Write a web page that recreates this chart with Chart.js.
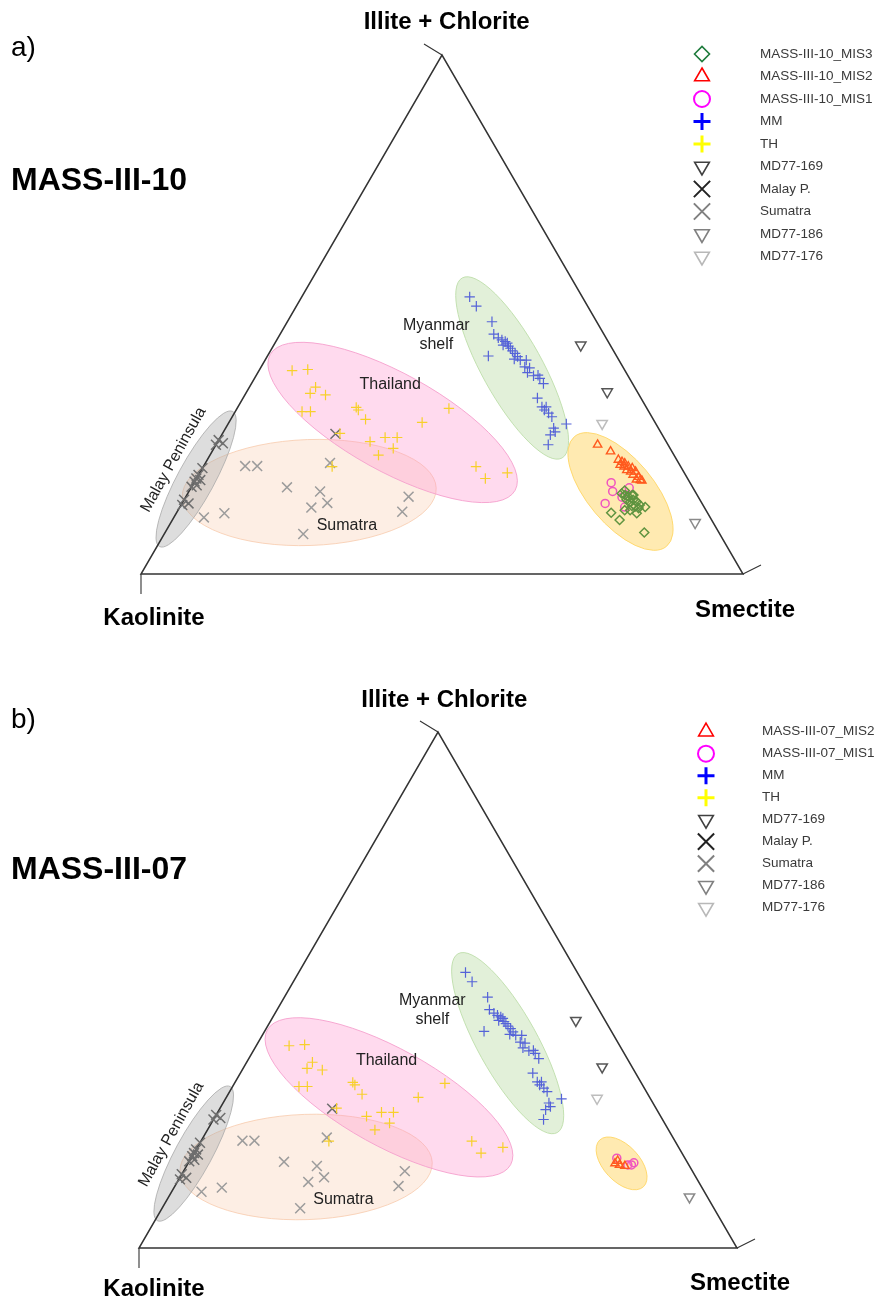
<!DOCTYPE html>
<html>
<head>
<meta charset="utf-8">
<script src="https://cdn.jsdelivr.net/npm/chart.js@4.4.1/dist/chart.umd.min.js"></script>
<style>
  body { margin: 0; background: #fff; }
  .panel { position: absolute; left: 0; }
</style>
</head>
<body>
<div class="panel" style="top:0"><canvas id="ternarioA" width="880" height="652"></canvas></div>
<div class="panel" style="top:652px"><canvas id="ternarioB" width="880" height="651"></canvas></div>
<script>
/* Diagramas ternarios de arcillas: [Kaolinita, Illita+Clorita, Esmectita] en % */

const vertices = ['Kaolinite', 'Illite + Chlorite', 'Smectite'];

// --- Fuentes de referencia (iguales en ambos paneles) ---
const datosMM = [
  [18.7,53.4,27.9], [18.5,51.6,29.9], [17.4,48.6,34.0], [18.3,46.2,35.5], [17.5,45.1,37.4],
  [17.1,44.8,38.1], [16.9,44.5,38.6], [17.0,43.9,39.1], [16.9,43.5,39.6], [21.3,42.0,36.7],
  [16.6,42.5,40.9], [16.5,41.9,41.6], [17.3,41.4,41.3], [16.4,41.2,42.4], [15.4,41.2,43.4],
  [16.3,39.9,43.8], [16.4,38.8,44.8], [14.9,38.3,46.8], [14.9,37.7,47.4], [14.8,36.7,48.5],
  [17.2,33.9,48.9], [17.3,32.2,50.5], [16.6,32.2,51.2], [16.8,31.0,52.2], [16.6,30.3,53.1],
  [17.4,28.1,54.5], [17.5,27.4,55.1], [18.6,26.8,54.6], [14.9,28.9,56.2], [19.9,24.9,55.2],
  [17.9,45.5,36.6], [16.8,43.0,40.2], [15.7,38.2,46.1], [17.2,31.6,51.2], [17.8,44.1,38.1],
  [15.6,39.7,44.7]
];
const datosTH = [
  [55.3,39.2,5.5], [52.6,39.4,8.0], [53.0,36.0,11.0], [54.5,34.8,10.7], [52.1,34.5,13.4],
  [57.6,31.3,11.1], [56.2,31.3,12.5], [48.2,32.1,19.7], [48.1,31.6,20.3], [47.8,29.8,22.4],
  [53.4,27.1,19.5], [49.2,25.5,25.3], [46.3,26.3,27.4], [44.3,26.3,29.4], [49.1,22.9,28.0],
  [46.0,24.2,29.8], [57.9,20.7,21.4], [38.7,29.2,32.1], [32.9,31.9,35.2], [34.0,20.7,45.3],
  [33.6,18.4,48.0], [29.4,19.5,51.1]
];
const datosSumatra = [
  [72.3,20.8,6.9], [70.3,20.8,8.9], [67.4,16.7,15.9], [57.9,21.4,20.7], [62.3,15.9,21.8],
  [62.2,13.7,24.1], [65.3,12.8,21.9], [80.3,11.7,8.0], [84.1,10.9,5.0], [69.2,7.7,23.1],
  [48.1,14.9,37.0], [50.6,12.0,37.4]
];
const datosMalay = [
  [74.2,25.8,0.0], [73.8,25.2,1.0], [75.1,24.9,0.0], [81.6,18.4,0.0], [80.9,19.1,0.0],
  [82.2,17.8,0.0], [81.1,18.1,0.8], [83.2,16.8,0.0], [82.2,17.1,0.7], [85.7,14.3,0.0],
  [85.3,13.6,1.1], [86.5,13.3,0.2], [79.6,20.4,0.0], [54.2,27.0,18.8]
];
const datosMD169 = [[4.9,44.1,51.0], [5.0,35.1,59.9]];
const datosMD186 = [[3.0,9.9,87.1]];
const datosMD176 = [[8.9,29.0,62.1]];

// --- Testigo MASS-III-10 ---
const datos10MIS3 = [
  [16.0,11.8,72.2], [15.3,10.4,74.3], [12.4,8.0,79.6], [9.8,12.9,77.3], [11.8,11.7,76.5],
  [12.4,15.5,72.1], [12.0,15.2,72.8], [11.6,14.9,73.5], [10.8,15.2,74.0], [11.1,14.3,74.6],
  [11.8,13.9,74.3], [10.7,13.9,75.4], [12.2,14.3,73.5], [11.4,13.0,75.6], [11.0,12.7,76.3],
  [11.9,13.1,75.0], [10.5,13.3,76.2], [13.5,12.3,74.2], [12.6,12.3,75.1], [10.6,15.2,74.2],
  [11.6,16.1,72.3]
];
const datos10MIS2 = [
  [11.7,24.9,63.4], [10.2,23.6,66.2], [9.7,22.0,68.3], [9.3,21.6,69.1], [9.9,21.0,69.1],
  [9.0,21.3,69.7], [8.7,20.7,70.6], [8.2,20.4,71.4], [8.8,19.7,71.5], [8.0,19.7,72.3],
  [8.7,19.1,72.2], [8.0,18.7,73.3], [8.0,18.1,73.9], [8.6,18.2,73.2], [7.8,18.0,74.2],
  [9.3,20.0,70.7], [9.4,20.7,69.9]
];
const datos10MIS1 = [
  [13.1,17.6,69.3], [13.7,15.9,70.4], [10.6,16.6,72.8], [12.7,14.8,72.5], [13.2,12.9,73.9],
  [16.1,13.6,70.3]
];

// --- Testigo MASS-III-07 ---
const datos07MIS2 = [[12.2,16.4,71.4], [11.6,16.1,72.3], [10.8,15.9,73.3], [11.5,16.9,71.6]];
const datos07MIS1 = [[11.4,17.4,71.2], [10.2,16.1,73.7], [9.6,16.1,74.3], [9.0,16.5,74.5]];

// Convierte una composicion ternaria a coordenadas x/y del grafico (0-100)
function aXY(c) {
    const total = c[0] + c[1] + c[2];
    return { x: (c[2] + c[1] / 2) / total * 100, y: c[1] / total * 100 };
}

// Estilos de cada serie (marca en el grafico y en la leyenda)
const estilos = {
    mis3: { forma: 'rectRot', rot: 0, radio: 4.5, grosor: 1.5, color: '#5f9440', leyColor: '#1e7b3c', leyRadio: 7.5, leyGrosor: 1.6 },
    mis2: { forma: 'triangle', rot: 0, radio: 4.8, grosor: 1.4, color: '#ff5a1e', leyColor: '#ff0000', leyRadio: 8.5, leyGrosor: 1.6 },
    mis1: { forma: 'circle', rot: 0, radio: 4, grosor: 1.5, color: '#f055c0', leyColor: '#ff00ff', leyRadio: 8, leyGrosor: 2 },
    mm: { forma: 'cross', rot: 0, radio: 5.2, grosor: 1.2, color: '#5563d8', leyColor: '#0000ff', leyRadio: 8.5, leyGrosor: 3 },
    th: { forma: 'cross', rot: 0, radio: 5.2, grosor: 1.2, color: '#f7d02a', leyColor: '#ffff00', leyRadio: 8.5, leyGrosor: 3 },
    md169: { forma: 'triangle', rot: 180, radio: 6, grosor: 1.5, color: '#555555', leyColor: '#404040', leyRadio: 8.5, leyGrosor: 1.6 },
    malay: { forma: 'crossRot', rot: 0, radio: 7, grosor: 1.5, color: '#6e6e6e', leyColor: '#222222', leyRadio: 11.5, leyGrosor: 2 },
    sumatra: { forma: 'crossRot', rot: 0, radio: 7, grosor: 1.5, color: '#9c9c9c', leyColor: '#808080', leyRadio: 11.5, leyGrosor: 2 },
    md186: { forma: 'triangle', rot: 180, radio: 6, grosor: 1.5, color: '#8a8a8a', leyColor: '#808080', leyRadio: 8.5, leyGrosor: 1.6 },
    md176: { forma: 'triangle', rot: 180, radio: 6, grosor: 1.5, color: '#bdbdbd', leyColor: '#b8b8b8', leyRadio: 8.5, leyGrosor: 1.6 }
};

function serie(etiqueta, datos, est) {
    return {
        label: etiqueta,
        data: datos.map(aXY),
        showLine: false,
        pointStyle: est.forma,
        pointRotation: est.rot,
        pointRadius: est.radio,
        pointHoverRadius: est.radio,
        pointBorderWidth: est.grosor,
        pointBorderColor: est.color,
        pointBackgroundColor: 'rgba(0,0,0,0)',
        estilo: est
    };
}

// Elipses de las fuentes (centro en composicion, semiejes en fraccion del lado)
const elipsesFuentes = [
    { centro: [64.2,15.7,20.1], a: 0.211, b: 0.088, ang: -2, relleno: 'rgba(248,203,173,0.33)', borde: 'rgba(248,203,173,0.8)' },
    { centro: [43.6,29.2,27.2], a: 0.2326, b: 0.081, ang: 29, relleno: 'rgba(255,150,205,0.35)', borde: 'rgba(245,160,205,0.9)' },
    { centro: [18.5,39.7,41.8], a: 0.171, b: 0.050, ang: 61, relleno: 'rgba(190,222,170,0.45)', borde: 'rgba(190,222,170,0.9)' },
    { centro: [81.7,18.3,0.0], a: 0.1276, b: 0.0307, ang: -61.5, relleno: 'rgba(170,170,170,0.4)', borde: 'rgba(170,170,170,0.8)' }
];

// Etiquetas de las regiones (en coordenadas x/y del grafico)
const etiquetasRegion = [
    { lineas: ['Myanmar', 'shelf'], x: 49.05, y: 46.1, rot: 0 },
    { lineas: ['Thailand'], x: 41.4, y: 36.4, rot: 0 },
    { lineas: ['Sumatra'], x: 34.2, y: 9.4, rot: 0 },
    { lineas: ['Malay Peninsula'], x: 5.4, y: 22.0, rot: -60.8 }
];

const FUENTE = '"Liberation Sans", Arial, sans-serif';

const pluginTernario = {
    id: 'ternario',
    beforeDatasetsDraw(chart, args, opts) {
        const ctx = chart.ctx;
        const { left, right, top, bottom } = chart.chartArea;
        const xs = chart.scales.x, ys = chart.scales.y;
        const lado = right - left;

        // Elipses
        opts.elipses.forEach(e => {
            const p = aXY(e.centro);
            ctx.save();
            ctx.beginPath();
            ctx.ellipse(xs.getPixelForValue(p.x), ys.getPixelForValue(p.y), e.a * lado, e.b * lado, e.ang * Math.PI / 180, 0, 2 * Math.PI);
            ctx.fillStyle = e.relleno;
            ctx.fill();
            ctx.strokeStyle = e.borde;
            ctx.lineWidth = 1;
            ctx.stroke();
            ctx.restore();
        });

        // Triangulo y marcas de los vertices
        const apiceX = (left + right) / 2;
        ctx.save();
        ctx.strokeStyle = '#333333';
        ctx.lineWidth = 1.5;
        ctx.beginPath();
        ctx.moveTo(left, bottom);
        ctx.lineTo(right, bottom);
        ctx.lineTo(apiceX, top);
        ctx.closePath();
        ctx.stroke();
        ctx.lineWidth = 1.1;
        ctx.beginPath();
        ctx.moveTo(left, bottom); ctx.lineTo(left, bottom + 20);
        ctx.moveTo(right, bottom); ctx.lineTo(right + 18, bottom - 9);
        ctx.moveTo(apiceX, top); ctx.lineTo(apiceX - 18, top - 11);
        ctx.stroke();
        ctx.restore();

        // Etiquetas de region
        ctx.save();
        ctx.fillStyle = '#222222';
        ctx.font = '16px ' + FUENTE;
        ctx.textAlign = 'center';
        ctx.textBaseline = 'middle';
        etiquetasRegion.forEach(et => {
            ctx.save();
            ctx.translate(xs.getPixelForValue(et.x), ys.getPixelForValue(et.y));
            ctx.rotate(et.rot * Math.PI / 180);
            et.lineas.forEach((l, i) => {
                ctx.fillText(l, 0, (i - (et.lineas.length - 1) / 2) * 19);
            });
            ctx.restore();
        });
        ctx.restore();
    },
    afterDraw(chart, args, opts) {
        const ctx = chart.ctx;
        ctx.save();
        ctx.fillStyle = '#000000';
        ctx.textBaseline = 'middle';

        // Letra del panel y nombre del testigo
        ctx.textAlign = 'left';
        ctx.font = '28px ' + FUENTE;
        ctx.fillText(opts.letra, 11, opts.yLetra);
        ctx.font = 'bold 32px ' + FUENTE;
        ctx.fillText(opts.testigo, 11, opts.yTestigo);

        // Nombres de los vertices
        ctx.textAlign = 'center';
        ctx.font = 'bold 24px ' + FUENTE;
        opts.vertices.forEach(v => ctx.fillText(v.texto, v.x, v.y));

        // Leyenda
        const L = opts.leyenda;
        chart.data.datasets.forEach((ds, i) => {
            const est = ds.estilo;
            const y = L.y0 + i * L.paso;
            ctx.save();
            ctx.strokeStyle = est.leyColor;
            ctx.fillStyle = 'rgba(0,0,0,0)';
            ctx.lineWidth = est.leyGrosor;
            Chart.helpers.drawPoint(ctx, { pointStyle: est.forma, rotation: est.rot, radius: est.leyRadio, borderWidth: est.leyGrosor }, L.xMarca, y);
            ctx.restore();
            ctx.fillStyle = '#3a3a3a';
            ctx.textAlign = 'left';
            ctx.font = '13.5px ' + FUENTE;
            ctx.fillText(ds.label, L.xTexto, y);
        });
        ctx.restore();
    }
};

function opciones(padding, extra) {
    return {
        responsive: false,
        animation: false,
        events: [],
        layout: { padding: padding },
        scales: {
            x: { type: 'linear', min: 0, max: 100, display: false },
            y: { type: 'linear', min: 0, max: 100, display: false }
        },
        plugins: {
            legend: { display: false },
            tooltip: { enabled: false },
            ternario: extra
        }
    };
}

// --- Panel a) MASS-III-10 ---
const ctxA = document.getElementById('ternarioA');
if (ctxA) {
    new Chart(ctxA, {
        type: 'scatter',
        data: {
            datasets: [
                serie('MASS-III-10_MIS3', datos10MIS3, estilos.mis3),
                serie('MASS-III-10_MIS2', datos10MIS2, estilos.mis2),
                serie('MASS-III-10_MIS1', datos10MIS1, estilos.mis1),
                serie('MM', datosMM, estilos.mm),
                serie('TH', datosTH, estilos.th),
                serie('MD77-169', datosMD169, estilos.md169),
                serie('Malay P.', datosMalay, estilos.malay),
                serie('Sumatra', datosSumatra, estilos.sumatra),
                serie('MD77-186', datosMD186, estilos.md186),
                serie('MD77-176', datosMD176, estilos.md176)
            ]
        },
        options: opciones({ left: 141, right: 137, top: 55, bottom: 78 }, {
            elipses: elipsesFuentes.concat([
                { centro: [12.4,15.9,71.7], a: 0.119, b: 0.055, ang: 50, relleno: 'rgba(255,214,100,0.5)', borde: 'rgba(255,214,100,0.9)' }
            ]),
            letra: 'a)', yLetra: 48,
            testigo: 'MASS-III-10', yTestigo: 181,
            vertices: [
                { texto: vertices[1], x: 446.7, y: 22 },
                { texto: vertices[0], x: 154, y: 618 },
                { texto: vertices[2], x: 745, y: 610 }
            ],
            leyenda: { xMarca: 702, xTexto: 760, y0: 54, paso: 22.5 }
        }),
        plugins: [pluginTernario]
    });
}

// --- Panel b) MASS-III-07 ---
const ctxB = document.getElementById('ternarioB');
if (ctxB) {
    new Chart(ctxB, {
        type: 'scatter',
        data: {
            datasets: [
                serie('MASS-III-07_MIS2', datos07MIS2, estilos.mis2),
                serie('MASS-III-07_MIS1', datos07MIS1, estilos.mis1),
                serie('MM', datosMM, estilos.mm),
                serie('TH', datosTH, estilos.th),
                serie('MD77-169', datosMD169, estilos.md169),
                serie('Malay P.', datosMalay, estilos.malay),
                serie('Sumatra', datosSumatra, estilos.sumatra),
                serie('MD77-186', datosMD186, estilos.md186),
                serie('MD77-176', datosMD176, estilos.md176)
            ]
        },
        options: opciones({ left: 139, right: 143, top: 80, bottom: 55 }, {
            elipses: elipsesFuentes.concat([
                { centro: [11.1,16.4,72.5], a: 0.0535, b: 0.030, ang: 47, relleno: 'rgba(255,214,100,0.5)', borde: 'rgba(255,214,100,0.9)' }
            ]),
            letra: 'b)', yLetra: 68,
            testigo: 'MASS-III-07', yTestigo: 218,
            vertices: [
                { texto: vertices[1], x: 444.3, y: 48 },
                { texto: vertices[0], x: 154, y: 637 },
                { texto: vertices[2], x: 740, y: 631 }
            ],
            leyenda: { xMarca: 706, xTexto: 762, y0: 79.7, paso: 22 }
        }),
        plugins: [pluginTernario]
    });
}
</script>
</body>
</html>
